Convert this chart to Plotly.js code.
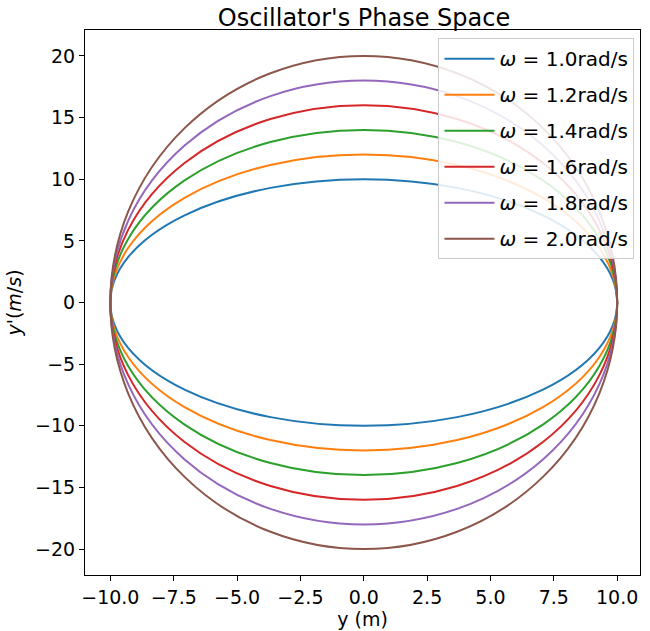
<!DOCTYPE html>
<html>
<head>
<meta charset="utf-8">
<script src="https://cdn.plot.ly/plotly-3.0.1.min.js"></script>
<style>body{margin:0;background:#fff}#chart{width:650px;height:631px}</style>
</head>
<body>
<div id="chart"></div>
<script>
// amplitude and angular frequencies of the oscillator
const amplitude = 10;
const omegas = [1.0, 1.2, 1.4, 1.6, 1.8, 2.0];
const colors = ['#1f77b4', '#ff7f0e', '#2ca02c', '#d62728', '#9467bd', '#8c564b'];
const xTicks = [-10, -7.5, -5, -2.5, 0, 2.5, 5, 7.5, 10];
const xTickText = ['−10.0', '−7.5', '−5.0', '−2.5', '0.0', '2.5', '5.0', '7.5', '10.0'];
const yTicks = [-20, -15, -10, -5, 0, 5, 10, 15, 20];
const yTickText = ['−20', '−15', '−10', '−5', '0', '5', '10', '15', '20'];

// each orbit is an ellipse spanning ±amplitude and ±amplitude*omega
const shapes = omegas.map((w, i) => ({
  type: 'circle', xref: 'x', yref: 'y',
  x0: -amplitude, x1: amplitude, y0: -amplitude * w, y1: amplitude * w,
  line: { color: colors[i], width: 2 }
}));

// empty traces only for the legend
const data = omegas.map((w, i) => ({
  x: [null], y: [null], mode: 'lines', type: 'scatter',
  name: '<i>ω</i> = ' + w.toFixed(1) + 'rad/s',
  legendgroup: 'g' + i,
  line: { color: colors[i], width: 2 }
}));

const axisBase = {
  showgrid: false, zeroline: false, showline: true, mirror: true,
  linecolor: '#000', ticks: 'outside', ticklen: 5, tickcolor: '#000',
  tickfont: { size: 19, color: '#000' }
};

const layout = {
  width: 650, height: 631,
  margin: { l: 85, r: 10, t: 30, b: 56 },
  paper_bgcolor: '#fff', plot_bgcolor: '#fff',
  font: { family: 'DejaVu Sans', color: '#000' },
  title: { text: "Oscillator's Phase Space", font: { size: 24 }, x: 0.56, y: 0.985, xanchor: 'center' },
  xaxis: Object.assign({}, axisBase, {
    range: [-11, 10.9], tickvals: xTicks, ticktext: xTickText,
    title: { text: 'y (m)', font: { size: 19 }, standoff: 4 }
  }),
  yaxis: Object.assign({}, axisBase, {
    range: [-22.1, 22.1], tickvals: yTicks, ticktext: yTickText,
    title: { text: "<i>y'</i>(<i>m</i>/<i>s</i>)", font: { size: 19 }, standoff: 8 }
  }),
  shapes: shapes,
  showlegend: true,
  legend: {
    x: 0.99, y: 0.985, xanchor: 'right', yanchor: 'top',
    bgcolor: 'rgba(255,255,255,0.85)', bordercolor: '#ccc', borderwidth: 1,
    font: { size: 20 }, tracegroupgap: 7, itemwidth: 50
  }
};

Plotly.newPlot('chart', data, layout, { staticPlot: true });
</script>
</body>
</html>
